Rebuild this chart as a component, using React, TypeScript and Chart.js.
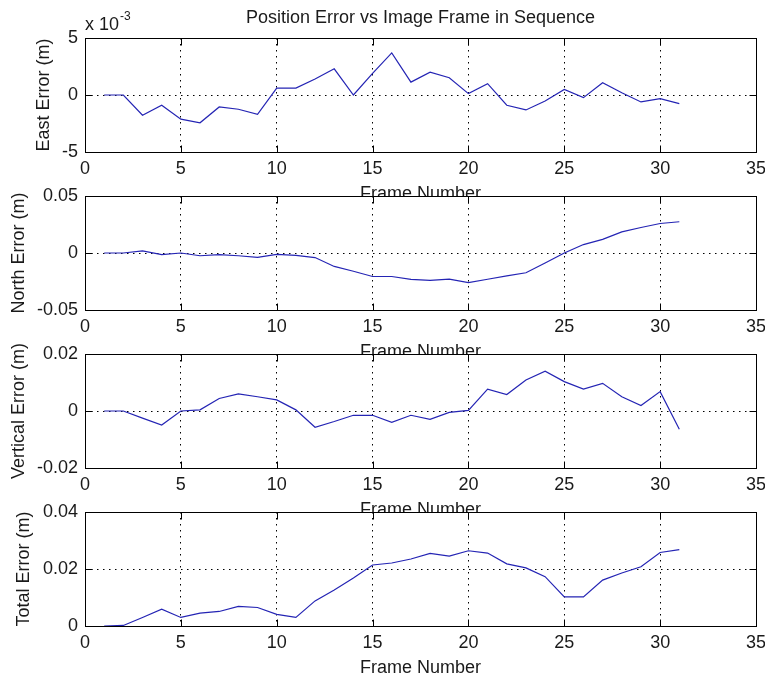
import React, { useEffect, useRef } from "react";
import { Chart, registerables } from "chart.js";

Chart.register(...registerables);

// ---- data ----
const frames = [1, 2, 3, 4, 5, 6, 7, 8, 9, 10, 11, 12, 13, 14, 15, 16, 17, 18, 19, 20, 21, 22, 23, 24, 25, 26, 27, 28, 29, 30, 31];

// East error in units of 1e-3 m
const eastErrorE3 = [0, 0, -1.77, -0.9, -2.12, -2.44, -1.05, -1.25, -1.69, 0.61, 0.61, 1.4, 2.3, 0, 1.9, 3.69, 1.13, 2.0, 1.51, 0.12, 0.99, -0.9, -1.31, -0.52, 0.49, -0.23, 1.08, 0.2, -0.61, -0.32, -0.76];
const northError = [0, 0, 0.0018, -0.0015, 0, -0.0024, -0.0015, -0.0024, -0.0038, -0.0012, -0.002, -0.004, -0.0118, -0.016, -0.0206, -0.0206, -0.0232, -0.024, -0.023, -0.0259, -0.023, -0.02, -0.0173, -0.0088, 0, 0.0074, 0.012, 0.0185, 0.0224, 0.0259, 0.0274];
const verticalError = [0, 0, -0.0025, -0.0049, 0, 0.0004, 0.0044, 0.006, 0.005, 0.0039, 0.0004, -0.0057, -0.0037, -0.0015, -0.0015, -0.004, -0.0015, -0.0029, -0.0005, 0.0002, 0.0077, 0.0058, 0.0109, 0.014, 0.0103, 0.0077, 0.0097, 0.005, 0.0019, 0.0068, -0.0064];
const totalError = [0, 0.0002, 0.003, 0.0059, 0.003, 0.0045, 0.0051, 0.0069, 0.0065, 0.0041, 0.003, 0.0088, 0.0126, 0.0168, 0.0214, 0.0221, 0.0235, 0.0255, 0.0245, 0.0264, 0.0256, 0.0218, 0.0204, 0.0173, 0.0102, 0.0102, 0.0161, 0.0186, 0.0208, 0.0258, 0.0268];

const xTicks = [0, 5, 10, 15, 20, 25, 30, 35];
const eastTicks = [-5, 0, 5];
const northTicks = [-0.05, 0, 0.05];
const verticalTicks = [-0.02, 0, 0.02];
const totalTicks = [0, 0.02, 0.04];

const chartTitle = "Position Error vs Image Frame in Sequence";
const xTitle = "Frame Number";
const eastLabel = "East Error (m)";
const northLabel = "North Error (m)";
const verticalLabel = "Vertical Error (m)";
const totalLabel = "Total Error (m)";

// ---- style ----
const FONT = "'Liberation Sans', Arial, Helvetica, sans-serif";
const FONT_SIZE = 18;
const TEXT_COLOR = "#1a1a1a";
const LINE_COLOR = "#2424b4";
const CANVAS_W = 765;
const CANVAS_H = 202;
const PLOT_TOP_PAD = 38;
const TICK_LEN = 7;

const fmt = (v: number) => {
  const r = parseFloat(v.toFixed(6));
  return String(r === 0 ? 0 : r);
};

const matlabAxesPlugin = {
  id: "matlabAxes",
  beforeDraw(chart: any) {
    const { ctx, chartArea: a } = chart;
    ctx.save();
    ctx.fillStyle = "#ffffff";
    ctx.fillRect(a.left, a.top, a.right - a.left, a.bottom - a.top);
    ctx.restore();
  },
  afterDraw(chart: any) {
    const { ctx, chartArea: a, scales } = chart;
    const L = Math.round(a.left) + 0.5;
    const R = Math.round(a.right) + 0.5;
    const T = Math.round(a.top) + 0.5;
    const B = Math.round(a.bottom) + 0.5;
    ctx.save();
    ctx.strokeStyle = "#000";
    ctx.lineWidth = 1;
    ctx.setLineDash([]);
    ctx.strokeRect(L, T, R - L, B - T);
    ctx.beginPath();
    for (const t of scales.x.ticks) {
      const px = Math.round(scales.x.getPixelForValue(t.value)) + 0.5;
      ctx.moveTo(px, B);
      ctx.lineTo(px, B - TICK_LEN);
      ctx.moveTo(px, T);
      ctx.lineTo(px, T + TICK_LEN);
    }
    for (const t of scales.y.ticks) {
      const py = Math.round(scales.y.getPixelForValue(t.value)) + 0.5;
      ctx.moveTo(L, py);
      ctx.lineTo(L + TICK_LEN, py);
      ctx.moveTo(R, py);
      ctx.lineTo(R - TICK_LEN, py);
    }
    ctx.stroke();
    ctx.restore();
  },
};

const headerPlugin = {
  id: "header",
  afterDraw(chart: any) {
    if (!chart.options.plugins.header?.show) return;
    const { ctx, chartArea: a } = chart;
    ctx.save();
    ctx.fillStyle = TEXT_COLOR;
    ctx.font = `${FONT_SIZE}px ${FONT}`;
    ctx.textAlign = "center";
    ctx.textBaseline = "middle";
    ctx.fillText(chartTitle, (a.left + a.right) / 2, 18);
    ctx.textAlign = "left";
    ctx.textBaseline = "alphabetic";
    ctx.fillText("x 10", a.left, 30);
    const w = ctx.measureText("x 10").width;
    ctx.font = `12px ${FONT}`;
    ctx.fillText("-3", a.left + w + 1, 20);
    ctx.restore();
  },
};

type Spec = {
  values: number[];
  yTicks: number[];
  label: string;
  labelPad: number;
  header: boolean;
};

const specs: Spec[] = [
  { values: eastErrorE3, yTicks: eastTicks, label: eastLabel, labelPad: 33, header: true },
  { values: northError, yTicks: northTicks, label: northLabel, labelPad: 8, header: false },
  { values: verticalError, yTicks: verticalTicks, label: verticalLabel, labelPad: 8, header: false },
  { values: totalError, yTicks: totalTicks, label: totalLabel, labelPad: 13, header: false },
];

const canvasTops = [0, 158, 316, 474];

function makeConfig(spec: Spec): any {
  const font = { family: FONT, size: FONT_SIZE };
  return {
    type: "line",
    data: {
      datasets: [
        {
          data: frames.map((f, i) => ({ x: f, y: spec.values[i] })),
          borderColor: LINE_COLOR,
          borderWidth: 1.2,
          pointRadius: 0,
          tension: 0,
          fill: false,
        },
      ],
    },
    options: {
      responsive: false,
      animation: false,
      events: [],
      layout: { padding: { top: PLOT_TOP_PAD, right: 9, bottom: 0, left: 0 } },
      plugins: {
        legend: { display: false },
        tooltip: { enabled: false },
        title: { display: false },
        header: { show: spec.header },
      },
      scales: {
        x: {
          type: "linear",
          min: xTicks[0],
          max: xTicks[xTicks.length - 1],
          afterBuildTicks: (s: any) => {
            s.ticks = xTicks.map((v) => ({ value: v }));
          },
          afterFit: (s: any) => {
            s.height = 50;
            s.paddingLeft = 0;
            s.paddingRight = 0;
          },
          ticks: {
            font,
            color: TEXT_COLOR,
            padding: 6,
            maxRotation: 0,
            autoSkip: false,
            callback: (v: number) => fmt(v),
          },
          grid: { color: "#000", lineWidth: 1, drawTicks: false },
          border: { display: false, dash: [1.5, 4.5] },
          title: { display: true, text: xTitle, font, color: TEXT_COLOR, padding: { top: 0, bottom: -3 } },
        },
        y: {
          type: "linear",
          min: spec.yTicks[0],
          max: spec.yTicks[spec.yTicks.length - 1],
          afterBuildTicks: (s: any) => {
            s.ticks = spec.yTicks.map((v) => ({ value: v }));
          },
          afterFit: (s: any) => {
            s.width = 85;
            s.paddingTop = 0;
            s.paddingBottom = 0;
          },
          ticks: {
            font,
            color: TEXT_COLOR,
            padding: 7,
            autoSkip: false,
            callback: (v: number) => fmt(v),
          },
          grid: { color: "#000", lineWidth: 1, drawTicks: false },
          border: { display: false, dash: [1.5, 4.5] },
          title: {
            display: true,
            text: spec.label,
            font,
            color: TEXT_COLOR,
            padding: { top: spec.labelPad, bottom: 0 },
          },
        },
      },
    },
    plugins: [matlabAxesPlugin, headerPlugin],
  };
}

export default function App() {
  const refs = [useRef<HTMLCanvasElement>(null), useRef<HTMLCanvasElement>(null), useRef<HTMLCanvasElement>(null), useRef<HTMLCanvasElement>(null)];

  useEffect(() => {
    const charts = specs.map((spec, i) => new Chart(refs[i].current as HTMLCanvasElement, makeConfig(spec)));
    return () => charts.forEach((c) => c.destroy());
  }, []);

  return (
    <div style={{ position: "absolute", left: 0, top: 0, width: CANVAS_W, height: 677, background: "#fff" }}>
      {specs.map((_, i) => (
        <canvas
          key={i}
          ref={refs[i]}
          width={CANVAS_W}
          height={CANVAS_H}
          style={{ position: "absolute", left: 0, top: canvasTops[i], width: CANVAS_W, height: CANVAS_H }}
        />
      ))}
    </div>
  );
}
